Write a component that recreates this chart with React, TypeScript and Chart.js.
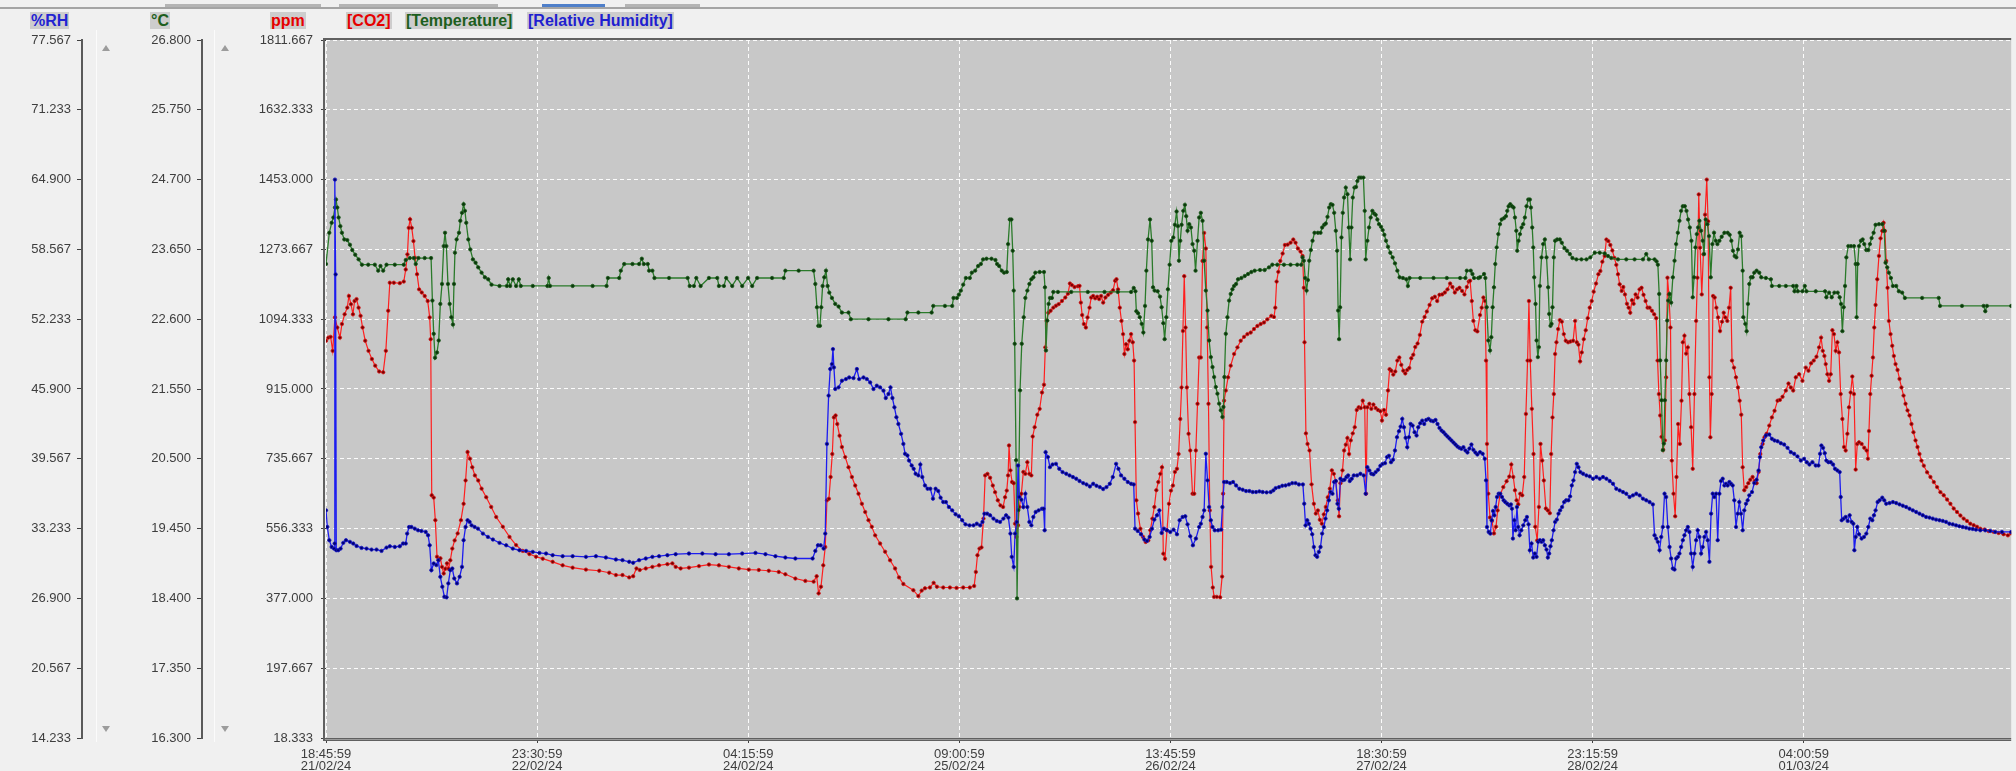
import React, { useEffect, useRef } from "react";
import { Chart, registerables } from "chart.js";

Chart.register(...registerables);

// ---- axis ticks ----
const xTickHours = [0, 28.75, 57.5, 86.25, 115, 143.75, 172.5, 201.25];
const xTickLabels = [
  ["18:45:59", "21/02/24"],
  ["23:30:59", "22/02/24"],
  ["04:15:59", "24/02/24"],
  ["09:00:59", "25/02/24"],
  ["13:45:59", "26/02/24"],
  ["18:30:59", "27/02/24"],
  ["23:15:59", "28/02/24"],
  ["04:00:59", "01/03/24"],
];
const xMaxHours = 229.5;
const rhTicks = [14.233, 20.567, 26.9, 33.233, 39.567, 45.9, 52.233, 58.567, 64.9, 71.233, 77.567];
const tempTicks = [16.3, 17.35, 18.4, 19.45, 20.5, 21.55, 22.6, 23.65, 24.7, 25.75, 26.8];
const ppmTicks = [18.333, 197.667, 377.0, 556.333, 735.667, 915.0, 1094.333, 1273.667, 1453.0, 1632.333, 1811.667];

// ---- series: [hours since 21/02/24 18:45:59, value] ----
const co2Readings = [
[0,1039],[0.32,1047],[0.63,1049],[0.91,1013],[1.22,1099],[1.54,1073],[1.9,1047],[2.17,1082],[2.54,1107],[2.9,1124],[3.12,1154],[3.4,1133],[3.67,1107],[3.89,1141],[4.16,1146],[4.44,1124],[4.71,1103],[4.98,1073],[5.34,1039],[5.79,1013],[6.25,992],[6.7,975],[7.24,960],[7.79,958],[8.15,1013],[8.47,1116],[8.69,1188],[9.24,1188],[10.05,1187],[10.59,1191],[10.86,1222],[11.09,1261],[11.27,1329],[11.45,1351],[11.68,1329],[11.91,1295],[12.13,1252],[12.4,1210],[12.68,1171],[13.04,1163],[13.44,1154],[13.85,1141],[14.12,1099],[14.26,1043],[14.4,642],[14.67,636],[14.89,578],[15.12,484],[15.35,475],[15.58,480],[15.8,458],[16.03,441],[16.25,453],[16.48,467],[16.7,453],[16.93,475],[17.2,505],[17.52,526],[17.93,544],[18.38,578],[18.74,620],[19.01,680],[19.28,753],[19.6,736],[19.92,714],[20.28,693],[20.73,680],[21.19,659],[21.82,637],[22.5,612],[23.18,586],[24.08,561],[24.99,535],[25.89,514],[26.8,499],[27.7,491],[28.61,484],[29.52,479],[30.87,471],[32.23,462],[33.59,456],[35.4,451],[37.21,448],[38.57,443],
[39.48,437],[40.38,437],[41.29,431],[41.83,434],[42.28,454],[42.73,450],[43.55,454],[44.45,458],[45.36,462],[46.49,465],[47.17,467],[47.62,458],[48.3,454],[49.43,456],[50.79,460],[52.15,464],[53.51,462],[54.87,458],[56.22,454],[57.58,451],[58.94,450],[60.3,448],[61.66,445],[62.56,439],[63.92,428],[65.28,422],[66.41,420],[66.82,434],[67.09,390],[67.41,407],[67.72,462],[67.99,509],[68.22,629],[68.49,633],[68.72,689],[68.95,748],[69.17,842],[69.4,847],[69.63,825],[69.94,795],[70.26,766],[70.71,740],[71.16,714],[71.62,689],[72.07,667],[72.52,646],[72.98,620],[73.43,599],[73.88,578],[74.33,561],[74.79,539],[75.46,518],[76.14,497],[76.82,475],[77.5,454],[78.04,431],[78.63,414],
[79.99,398],[80.67,383],[81.12,397],[81.57,403],[82.25,405],[82.75,417],[83.2,407],[84.06,405],[84.97,405],[85.87,404],[86.78,405],[87.68,405],[88.27,409],[88.5,445],[88.72,488],[89.0,505],[89.27,508],[89.54,582],[89.77,693],[90.08,697],[90.44,687],[90.81,667],[91.12,650],[91.49,629],[91.85,616],[92.21,612],[92.48,637],[92.71,654],[92.89,693],[93.02,770],[93.21,706],[93.43,676],[93.66,673],[93.84,569],[94.02,535],[94.25,565],[94.43,612],[94.7,646],[94.97,702],[95.24,697],[95.51,727],[95.79,697],[96.06,693],[96.24,793],[96.51,817],[96.87,849],[97.19,864],[97.51,906],[97.78,926],[97.96,1022],[98.14,1090],[98.37,1111],[98.68,1116],[99.05,1124],[99.41,1129],[99.77,1133],[100.22,1141],[100.68,1150],[101.04,1160],[101.31,1186],[101.58,1182],[101.94,1177],[102.4,1179],[102.62,1180],[102.8,1137],[102.98,1105],[103.21,1082],[103.48,1073],[103.71,1099],[103.98,1124],[104.21,1150],[104.48,1154],[104.75,1148],[105.02,1152],[105.29,1146],[105.56,1154],[105.84,1137],[106.15,1150],[106.52,1157],[106.88,1163],[107.19,1169],[107.47,1193],[107.65,1197],[107.87,1171],[108.1,1124],[108.33,1090],[108.55,1056],[108.73,1005],[108.96,1030],[109.19,1017],[109.41,1039],[109.64,1056],[109.87,1035],[110.05,988],[110.18,830],[110.36,629],[110.59,595],[110.91,556],[111.27,535],[111.63,522],[111.99,526],[112.26,552],[112.54,582],[112.81,612],[113.08,655],[113.35,676],[113.62,697],[113.85,714],[114.03,492],[114.26,479],[114.53,552],[114.8,620],[115.07,654],[115.34,667],[115.61,702],[115.89,710],[116.11,748],[116.34,838],[116.52,919],[116.7,1064],[116.88,1205],[117.06,1073],[117.24,919],[117.47,800],[117.7,757],
[118.01,646],[118.24,646],[118.46,757],[118.69,877],[118.91,996],[119.14,996],[119.37,1244],[119.59,1316],[119.82,1276],[120.0,1073],[120.18,877],[120.36,603],[120.54,458],[120.77,405],[120.95,381],[121.31,381],[121.77,380],[122.04,433],[122.17,646],[122.31,885],[122.54,911],[122.85,945],[123.21,975],[123.67,1005],[124.12,1022],[124.57,1039],[125.03,1049],[125.48,1056],[125.93,1060],[126.38,1069],[126.84,1077],[127.29,1082],[127.74,1086],[128.19,1094],[128.74,1103],[129.1,1100],[129.28,1124],[129.46,1191],[129.69,1216],[129.96,1244],[130.28,1263],[130.59,1285],[130.96,1286],[131.36,1291],[131.73,1299],[132.04,1291],[132.36,1276],[132.72,1268],[132.99,1257],[133.17,1175],[133.26,1035],[133.45,801],[133.67,774],[133.94,757],[134.22,670],[134.53,620],[134.8,595],[135.08,603],[135.35,579],[135.62,569],[135.89,593],[136.16,612],[136.43,637],[136.71,659],[136.98,706],[137.25,697],[137.52,678],[137.79,629],[137.97,588],[138.15,673],[138.43,706],[138.65,757],[138.88,772],[139.1,789],[139.33,748],[139.56,783],[139.83,801],[140.1,817],[140.37,861],[140.64,868],[140.92,866],[141.19,885],[141.46,868],[141.64,646],[141.82,868],[142.09,877],[142.36,864],[142.64,875],[142.95,866],[143.27,861],[143.59,858],[143.81,834],[144.08,861],[144.36,849],[144.63,911],[144.85,966],[145.08,962],[145.35,952],[145.62,960],[145.9,988],[146.17,996],[146.44,977],[146.71,962],[146.98,955],[147.25,964],[147.53,969],[147.8,994],[148.07,1003],[148.34,1023],[148.66,1032],[148.97,1054],[149.29,1088],[149.61,1100],[149.92,1114],[150.29,1131],[150.65,1148],[151.01,1152],[151.33,1141],[151.64,1157],[152.01,1158],[152.37,1163],[152.73,1171],[153.09,1186],[153.41,1177],[153.73,1163],[154.04,1171],[154.36,1175],[154.72,1167],[155.04,1158],[155.36,1177],[155.63,1191],[155.81,1193],[156.04,1141],[156.26,1090],[156.53,1066],[156.8,1063],
[157.16,1105],[157.39,1124],[157.62,1150],[157.84,1141],[157.98,988],[158.11,774],[158.29,646],[158.52,585],[158.79,576],[159.06,544],[159.34,561],[159.56,603],[159.88,642],[160.33,663],[160.78,678],[161.15,690],[161.42,721],[161.69,689],[161.92,655],[162.14,629],[162.37,619],[162.64,646],[162.91,642],[163.18,689],[163.41,851],[163.64,988],[163.82,1141],[164.0,988],[164.22,864],[164.45,748],[164.68,561],[164.95,526],[165.18,612],[165.4,774],[165.63,731],[165.85,680],[166.13,608],[166.4,603],[166.67,596],[166.85,748],[167.03,842],[167.21,902],[167.39,1005],[167.57,1035],[167.8,1069],[168.03,1092],[168.3,1088],[168.57,1056],[168.84,1039],[169.16,1035],[169.48,1037],[169.84,1039],[170.11,1090],[170.34,1035],[170.56,1029],[170.79,986],[171.02,1009],[171.29,1043],[171.56,1066],[171.83,1097],[172.1,1124],[172.37,1141],[172.64,1165],[172.96,1186],[173.28,1210],[173.55,1218],[173.82,1242],[174.14,1257],[174.37,1299],[174.64,1295],[174.91,1285],[175.18,1271],[175.45,1252],[175.72,1234],[175.95,1210],[176.18,1184],[176.45,1167],[176.67,1177],[176.9,1158],[177.17,1134],[177.4,1124],[177.62,1111],[177.85,1143],[178.08,1134],[178.35,1158],[178.62,1150],[178.89,1171],[179.16,1175],[179.43,1157],[179.71,1141],[179.98,1124],[180.25,1124],[180.57,1116],[180.88,1107],[181.16,1097],[181.34,988],[181.52,902],[181.7,847],[181.88,792],[182.11,759],[182.33,783],[182.51,945],[182.69,1201],[182.88,1158],[183.1,1073],[183.28,731],[183.51,646],[183.74,588],[183.92,689],[184.14,825],[184.37,774],[184.6,885],[184.78,1035],[185.0,1052],[185.23,1006],[185.46,1022],[185.68,902],[185.91,817],[186.13,710],[186.36,902],[186.59,1090],[186.77,1201],[186.95,1415],[187.13,1278],[187.36,1158],[187.58,1261],[187.81,1363],[188.04,1453],[188.22,1346],[188.4,945],[188.53,791],[188.71,902],[188.9,1154],[189.12,1150],[189.35,1124],[189.58,1099],[189.85,1064],[190.12,1088],[190.35,1111],[190.57,1099],[190.84,1090],[191.07,1124],[191.3,1175],[191.48,988],[191.75,970],[192.02,945],[192.29,919],[192.52,885],[192.74,849],[192.93,714],[193.15,655],[193.42,663],[193.7,673],[193.97,682],[194.28,689],[194.56,678],[194.83,673],[195.1,702],[195.33,748],[195.64,774],[195.91,791],[196.19,800],[196.55,821],[196.91,842],[197.27,859],
[197.68,885],[198.0,887],[198.36,895],[198.81,911],[199.17,929],[199.49,919],[199.81,911],[200.17,945],[200.62,953],[201.07,936],[201.53,970],[201.89,962],[202.25,981],[202.61,988],[202.98,998],[203.34,1022],[203.61,1047],[203.84,1013],[204.06,1000],[204.24,979],[204.47,953],[204.7,936],[204.92,953],[205.15,1066],[205.37,1056],[205.6,1013],[205.83,1035],[206.05,1009],[206.28,902],[206.51,838],[206.73,766],[206.96,757],[207.19,800],[207.41,868],[207.64,906],[207.86,947],[208.09,902],[208.32,708],[208.54,774],[208.77,778],[209.13,774],[209.49,764],[209.81,757],[209.99,736],[210.13,807],[210.31,902],[210.49,949],[210.67,996],[210.85,1073],[211.03,1131],[211.26,1197],[211.49,1257],[211.71,1302],[211.94,1321],[212.12,1342],[212.3,1321],[212.48,1244],[212.66,1175],[212.84,1090],[213.07,1056],[213.3,1026],[213.52,1000],[213.75,979],[214.02,964],[214.29,941],[214.56,919],[214.84,898],[215.11,877],[215.38,860],[215.65,847],[215.92,825],[216.19,804],[216.47,783],[216.74,766],[217.01,748],[217.28,731],[217.6,718],[218.05,701],[218.5,689],[218.96,676],[219.41,663],[219.86,650],[220.31,642],[220.77,631],[221.22,620],[221.67,608],[222.12,599],[222.58,590],[223.03,582],[223.48,576],[223.93,569],[224.39,565],[224.84,561],[225.29,556],[225.88,554],[226.42,550],[227.1,548],[227.78,545],[228.46,542],[229.05,539],[229.5,544]
];

const temperatureReadings = [
[0,23.43],[0.45,23.9],[0.77,24.05],[1.0,24.13],[1.22,24.28],[1.36,24.4],[1.54,24.28],[1.72,24.13],[1.95,24.0],[2.17,23.9],[2.49,23.8],[2.9,23.79],[3.26,23.72],[3.58,23.64],[3.98,23.57],[4.44,23.5],[4.89,23.42],[5.75,23.42],[6.65,23.42],[7.11,23.33],[7.42,23.4],[7.79,23.33],[8.24,23.42],[9.37,23.42],[10.59,23.42],[10.86,23.49],[11.41,23.52],[11.95,23.52],[12.22,23.43],[12.59,23.52],[13.44,23.52],[14.31,23.52],[14.49,22.88],[14.67,22.38],[14.85,22.02],[15.12,22.1],[15.35,22.28],[15.57,22.83],[15.8,23.13],[16.03,23.7],[16.21,23.9],[16.39,23.7],[16.61,23.13],[16.84,22.83],[17.07,22.63],[17.29,22.52],[17.43,23.13],[17.56,23.6],[17.79,23.8],[18.11,23.9],[18.29,24.08],[18.52,24.2],[18.74,24.33],[18.92,24.23],[19.1,24.05],[19.38,23.8],[19.65,23.65],[20.01,23.5],[20.37,23.45],[20.73,23.38],[21.19,23.3],[21.64,23.23],[22.09,23.2],[22.54,23.12],[23.63,23.1],[24.63,23.1],[24.81,23.2],[25.08,23.1],[25.44,23.2],[25.89,23.1],[26.26,23.2],[26.53,23.1],[28.16,23.1],[30.15,23.1],[30.33,23.22],[30.51,23.1],[33.59,23.1],[36.31,23.1],[38.21,23.1],[38.39,23.22],
[39.93,23.22],[40.15,23.33],[40.61,23.43],[41.74,23.43],[42.64,23.43],[43.01,23.51],[43.28,23.43],[43.82,23.43],[44.0,23.33],[44.45,23.33],[44.73,23.22],[46.72,23.22],[49.25,23.22],[49.53,23.1],[50.11,23.1],[50.43,23.22],[51.02,23.1],[52.15,23.22],[53.28,23.22],[53.51,23.1],[54.19,23.1],[54.5,23.22],[55.32,23.1],[56.0,23.22],[56.68,23.1],[57.49,23.22],[58.04,23.1],[58.71,23.22],[60.75,23.22],[62.34,23.22],[62.56,23.33],[64.37,23.33],[66.41,23.33],[66.64,23.13],[66.86,22.78],[67.04,22.5],[67.27,22.5],[67.45,22.78],[67.63,23.1],[67.86,23.23],[68.09,23.33],[68.31,23.1],[68.54,23.0],[68.9,22.92],[69.35,22.83],[69.81,22.79],[70.26,22.7],[71.16,22.7],[71.48,22.6],[73.88,22.6],[76.6,22.6],[78.95,22.6],[79.18,22.7],
[80.67,22.7],[82.48,22.7],[82.7,22.8],[84.29,22.8],[85.28,22.8],[85.46,22.92],[85.92,22.92],[86.19,22.97],[86.46,23.03],[86.78,23.12],[87.14,23.22],[87.68,23.22],[87.95,23.3],[88.41,23.33],[88.81,23.4],[89.18,23.43],[89.49,23.5],[89.95,23.51],[90.63,23.51],[91.17,23.49],[91.4,23.43],[91.67,23.4],[92.03,23.33],[92.35,23.3],[92.71,23.31],[92.89,23.73],[93.12,24.1],[93.34,24.1],[93.52,23.63],[93.66,23.03],[93.79,22.23],[93.98,20.48],[94.11,18.4],[94.29,19.73],[94.52,21.53],[94.75,22.23],[95.02,22.63],[95.24,22.92],[95.51,23.03],[95.79,23.13],[96.06,23.2],[96.33,23.23],[96.6,23.3],[97.19,23.31],[97.78,23.31],[97.91,23.08],[98.05,22.13],[98.23,22.58],[98.41,22.83],[98.59,22.92],[98.86,22.92],[99.05,23.01],[99.68,23.01],[101.49,23.01],[103.75,23.01],[106.02,23.01],[107.83,23.01],[109.64,23.01],[110.0,23.07],[110.23,23.02],[110.36,22.72],[110.59,22.69],[110.82,22.63],[111.09,22.53],[111.31,22.4],[111.54,22.8],[111.72,23.33],[111.95,23.8],[112.22,24.1],[112.45,23.78],[112.63,23.08],[112.85,23.03],[113.26,23.02],[113.58,22.94],[113.8,22.78],[114.03,22.54],[114.21,22.3],[114.44,22.63],[114.66,23.05],[114.89,23.42],[115.12,23.78],[115.39,23.83],[115.61,24.02],[115.84,24.22],[116.02,24.0],[116.16,23.48],[116.34,23.78],[116.52,24.02],[116.75,24.23],[116.97,24.32],[117.15,24.15],[117.33,23.93],[117.56,24.03],[117.79,23.98],[118.01,23.73],[118.24,23.63],[118.42,23.33],
[118.69,23.78],[118.91,24.13],[119.14,24.2],[119.37,24.08],[119.59,23.48],[119.82,23.03],[120.05,22.73],[120.27,22.28],[120.5,22.03],[120.73,21.88],[120.95,21.73],[121.18,21.58],[121.4,21.48],[121.63,21.33],[121.86,21.23],[122.08,21.13],[122.22,21.28],[122.35,21.73],[122.54,22.38],[122.76,22.63],[122.99,22.88],[123.21,22.98],[123.44,23.05],[123.67,23.1],[123.94,23.13],[124.21,23.2],[124.66,23.22],[125.12,23.25],[125.57,23.28],[126.02,23.31],[126.47,23.33],[127.2,23.34],[127.83,23.34],[128.42,23.38],[128.87,23.42],[129.55,23.42],[130.46,23.42],[131.36,23.42],[132.27,23.42],[132.81,23.42],[132.99,23.53],[133.17,23.48],[133.35,23.22],[133.54,23.03],[133.72,23.19],[133.9,23.48],[134.12,23.64],[134.35,23.78],[134.62,23.9],[135.08,23.9],[135.44,23.9],[135.66,23.98],[135.94,24.02],[136.16,24.04],[136.39,24.14],[136.62,24.28],[136.84,24.33],[137.07,24.32],[137.3,24.2],[137.52,23.93],[137.7,23.63],[137.84,22.73],[137.97,22.3],[138.11,22.78],[138.29,23.83],[138.47,24.2],[138.65,24.43],[138.88,24.58],[139.11,24.48],[139.29,23.98],[139.47,23.5],[139.65,23.98],[139.83,24.43],[140.06,24.58],[140.28,24.59],[140.46,24.68],[140.69,24.73],[140.96,24.73],[141.28,24.73],[141.46,24.23],[141.59,23.5],[141.82,23.78],[142.05,23.98],[142.27,24.13],[142.5,24.23],[142.73,24.19],[142.95,24.17],[143.18,24.1],[143.41,24.03],[143.68,23.99],[143.9,23.94],[144.13,23.87],[144.36,23.78],[144.63,23.69],[144.94,23.6],[145.26,23.53],[145.58,23.44],[145.9,23.33],[146.21,23.23],[146.66,23.22],[147.12,23.2],[147.34,23.1],[147.57,23.22],[149.02,23.22],[150.83,23.22],[152.64,23.22],[154.45,23.22],[155.17,23.22],[155.36,23.33],[155.9,23.33],[156.13,23.28],[156.35,23.22],[156.94,23.22],
[157.16,23.23],[157.71,23.28],[157.89,23.22],[158.07,22.78],[158.29,22.28],[158.52,22.13],[158.7,22.33],[158.88,22.78],[159.06,23.08],[159.24,23.43],[159.43,23.68],[159.65,23.88],[159.88,24.03],[160.11,24.1],[160.42,24.12],[160.69,24.15],[160.87,24.23],[161.06,24.3],[161.28,24.33],[161.51,24.3],[161.73,24.28],[161.92,24.13],[162.1,23.93],[162.23,23.63],[162.41,23.78],[162.6,23.88],[162.82,23.98],[163.05,24.03],[163.27,24.13],[163.5,24.3],[163.73,24.4],[163.95,24.4],[164.09,24.28],[164.27,23.98],[164.41,23.68],[164.54,23.23],[164.72,22.83],[164.86,22.28],[165.04,22.03],[165.18,22.18],[165.31,23.1],[165.54,23.53],[165.76,23.73],[165.99,23.8],[166.22,23.53],[166.44,23.08],[166.58,22.68],[166.76,22.5],[166.9,22.53],[167.03,22.78],[167.21,23.53],[167.39,23.78],[167.67,23.8],[168.03,23.8],[168.3,23.75],[168.66,23.67],[169.02,23.63],[169.39,23.58],[169.75,23.52],[170.29,23.5],[170.97,23.5],[171.65,23.5],[172.19,23.53],[172.78,23.6],[173.46,23.6],[174.14,23.59],[174.59,23.55],[175.04,23.52],[175.95,23.5],[177.08,23.5],[178.21,23.5],[179.35,23.5],[179.8,23.58],[180.16,23.5],[180.93,23.5],[181.2,23.47],[181.38,23.42],[181.56,22.98],[181.7,21.98],[181.88,21.38],[182.06,20.63],[182.2,20.73],[182.33,21.38],[182.51,21.98],[182.65,22.58],[182.79,22.88],[182.97,22.98],[183.19,22.85],[183.42,23.23],[183.65,23.48],[183.87,23.73],[184.1,23.9],[184.32,24.08],[184.55,24.23],[184.78,24.3],[185.05,24.3],[185.28,24.23],[185.5,24.1],[185.73,23.98],[185.95,23.78],[186.13,22.93],[186.31,23.23],[186.5,23.68],[186.68,23.88],[186.86,23.98],[187.04,24.08],[187.27,23.93],[187.49,23.78],[187.67,23.58],[187.9,24.1],[188.13,24.03],[188.35,23.85],[188.58,23.23],[188.81,23.73],[189.03,23.9],[189.26,23.78],[189.49,23.73],[189.76,23.78],[190.07,23.84],[190.44,23.9],[190.89,23.9],[191.16,23.87],[191.39,23.78],[191.61,23.63],[191.84,23.55],[192.07,23.53],[192.29,23.65],[192.52,23.9],[192.74,23.85],[192.93,23.33],
[193.02,22.63],[193.29,22.53],[193.47,22.42],[193.65,22.83],[193.83,23.13],[194.06,23.23],[194.28,23.23],[194.51,23.3],[194.83,23.33],[195.19,23.3],[195.46,23.23],[196.09,23.22],[196.77,23.2],[196.91,23.1],[197.91,23.1],[198.81,23.1],[199.81,23.1],[199.99,23.02],[200.26,23.1],[200.44,23.02],[201.07,23.02],[201.39,23.1],[201.62,23.02],[202.88,23.02],[204.15,23.02],[204.33,22.93],[204.7,23.0],[205.06,22.93],[205.42,23.0],[205.87,23.0],[206.14,22.93],[206.33,22.83],[206.51,22.42],[206.69,22.78],[206.87,23.1],[207.05,23.53],[207.32,23.7],[207.68,23.7],[208.09,23.7],[208.32,23.43],[208.45,22.63],[208.59,23.43],[208.77,23.7],[209.04,23.78],[209.27,23.8],[209.49,23.73],[209.77,23.64],[210.04,23.64],[210.26,23.73],[210.49,23.82],[210.76,23.9],[211.03,24.02],[211.49,24.03],[211.94,24.03],[212.21,23.93],[212.39,23.45],[212.62,23.38],[212.84,23.3],[213.12,23.22],[213.39,23.1],[213.84,23.1],[214.2,23.02],[214.65,23.0],[215.02,22.92],[217.37,22.92],[219.63,22.92],[219.81,22.8],[222.8,22.8],[225.74,22.8],[225.97,22.72],[226.2,22.8],[229.5,22.8]
];

const humidityReadings = [
[0,34.89],[0.18,33.38],[0.45,32.18],[0.77,31.57],[1.09,31.42],[1.18,31.88],[1.22,64.9],[1.31,56.3],[1.4,31.27],[1.67,31.27],[1.99,31.42],[2.35,31.94],[2.72,32.18],[3.26,32.03],[3.71,31.88],[4.16,31.66],[4.84,31.48],[5.52,31.42],[6.2,31.33],[6.88,31.33],[7.56,31.21],[8.24,31.51],[8.69,31.63],[9.37,31.57],[10.05,31.63],[10.5,31.88],[10.86,31.88],[11.05,32.78],[11.32,33.38],[11.63,33.38],[12.09,33.23],[12.54,33.08],[12.99,33.02],[13.58,32.93],[13.9,32.63],[14.12,31.72],[14.35,29.46],[14.67,30.07],[15.03,29.92],[15.3,30.37],[15.57,28.86],[15.84,27.96],[16.12,27.05],[16.43,26.99],[16.66,28.26],[16.93,29.46],[17.2,29.61],[17.47,28.71],[17.84,28.26],[18.2,28.86],[18.52,29.76],[18.74,32.18],[19.01,33.38],[19.28,33.99],[19.56,33.84],[19.83,33.53],[20.24,33.38],[20.69,33.23],[21.37,32.78],[22.05,32.48],[22.73,32.24],[23.63,31.94],[24.54,31.72],[25.44,31.42],[26.35,31.27],[27.25,31.21],[28.16,31.12],[29.06,31.03],[29.97,30.97],[30.87,30.82],[32.23,30.73],[33.59,30.73],[35.4,30.67],[36.76,30.73],[38.12,30.61],
[39.48,30.43],[40.38,30.37],[41.29,30.22],[41.83,30.13],[42.64,30.37],[43.55,30.52],[44.45,30.67],[45.36,30.73],[46.49,30.82],[47.62,30.91],[49.43,30.97],[51.25,30.97],[53.06,30.91],[54.87,30.91],[56.68,30.97],[58.49,31.03],[59.85,30.91],[61.21,30.73],[62.56,30.61],[63.92,30.52],[66.27,30.52],[66.64,31.21],[67.0,31.72],[67.36,31.72],[67.77,31.42],[67.99,32.78],[68.22,40.92],[68.45,45.3],[68.67,47.71],[68.9,48.16],[69.04,49.52],[69.17,47.86],[69.35,45.9],[69.81,46.05],[70.26,46.65],[70.8,46.8],[71.25,46.95],[71.84,46.89],[72.3,47.71],[72.61,46.8],[73.2,46.95],[73.65,46.8],[74.11,46.5],[74.56,45.9],[75.01,46.2],[75.46,46.05],[75.92,45.75],[76.23,45.08],[76.6,45.45],[76.87,46.05],[77.14,45.08],[77.41,44.24],[77.68,43.34],[77.95,42.73],[78.32,41.83],[78.63,40.92],[78.86,40.02],[79.18,39.87],
[79.4,39.41],[79.76,38.96],[80.03,38.66],[80.3,38.21],[80.67,38.06],[80.94,39.05],[81.21,37.91],[81.57,37.15],[81.93,36.85],[82.3,36.85],[82.66,35.95],[83.02,36.85],[83.38,36.64],[83.7,36.04],[84.06,35.64],[84.42,35.64],[84.83,35.19],[85.28,34.89],[85.74,34.53],[86.19,34.35],[86.64,33.99],[87.09,33.62],[87.64,33.53],[88.18,33.53],[88.63,33.68],[89.09,33.53],[89.4,33.84],[89.67,34.59],[90.04,34.59],[90.44,34.44],[90.9,34.14],[91.35,33.93],[91.8,33.84],[92.25,34.14],[92.62,34.44],[92.93,34.23],[93.21,32.78],[93.39,30.67],[93.66,29.76],[93.84,32.78],[94.07,33.84],[94.25,38.96],[94.43,36.1],[94.7,35.86],[94.97,35.19],[95.24,36.4],[95.51,35.19],[95.79,33.84],[96.06,33.53],[96.33,34.29],[96.65,34.74],[97.05,34.89],[97.51,35.04],[97.73,35.04],[97.87,33.08],[98.0,40.17],[98.32,39.72],[98.59,38.81],[98.95,39.05],[99.41,39.11],[99.86,38.66],[100.31,38.36],[100.81,38.21],[101.26,38.06],[101.72,37.91],[102.17,37.76],[102.62,37.55],[103.12,37.36],[103.57,37.24],[104.03,37.06],[104.48,37.3],[104.93,37.12],[105.38,37.0],[105.84,36.82],[106.29,37.0],[106.74,37.3],[107.15,37.91],[107.6,39.11],[107.92,38.66],[108.28,38.06],[108.73,37.76],[109.19,37.46],[109.64,37.3],[110.0,37.24],[110.18,33.23],[110.54,33.02],[110.99,32.72],[111.45,32.24],[111.81,32.12],[112.17,32.48],[112.49,33.23],[112.81,34.05],[113.17,34.44],[113.49,34.89],[113.8,32.84],[114.12,33.23],[114.53,33.08],[114.98,32.93],[115.43,33.14],[115.89,32.72],[116.25,33.99],[116.66,34.29],[117.02,34.35],[117.33,33.62],[117.7,32.54],[118.06,31.72],[118.47,32.33],
[118.91,33.38],[119.14,33.68],[119.37,34.29],[119.59,34.89],[119.82,40.02],[120.05,37.61],[120.27,35.19],[120.5,33.99],[120.73,33.38],[121.04,33.08],[121.49,33.08],[121.9,33.14],[122.08,35.19],[122.31,37.46],[122.67,37.46],[123.12,37.36],[123.53,37.46],[123.94,37.15],[124.39,36.85],[124.84,36.76],[125.3,36.64],[125.75,36.64],[126.2,36.55],[126.66,36.55],[127.11,36.61],[127.56,36.55],[128.1,36.52],[128.65,36.55],[129.01,36.7],[129.33,36.91],[129.78,37.0],[130.23,37.12],[130.68,37.15],[131.14,37.24],[131.59,37.36],[132.04,37.36],[132.5,37.24],[133.04,37.24],[133.22,35.49],[133.4,33.53],[133.63,33.99],[133.85,33.68],[134.08,33.23],[134.31,32.72],[134.53,31.57],[134.76,30.82],[134.98,30.67],[135.21,31.12],[135.44,31.57],[135.66,32.78],[135.89,33.38],[136.12,34.14],[136.34,34.89],[136.57,35.8],[136.8,36.55],[137.07,36.4],[137.3,37.46],[137.52,37.55],[137.75,35.49],[137.93,35.04],[138.15,37.76],[138.43,37.61],[138.7,37.67],[138.97,37.91],[139.2,38.06],[139.42,37.55],[139.69,37.76],[139.97,38.06],[140.42,38.06],[140.87,38.21],[141.32,38.06],[141.59,36.4],[141.82,38.81],[142.09,38.51],[142.36,38.21],[142.64,38.15],[142.95,38.36],[143.27,38.57],[143.59,38.93],[143.9,39.11],[144.22,39.17],[144.49,39.72],[144.76,39.84],[145.04,39.26],[145.31,39.48],[145.58,40.32],[145.85,41.53],[146.12,42.07],[146.35,42.49],[146.57,43.19],[146.8,42.43],[147.03,41.47],[147.25,40.62],[147.48,41.53],[147.71,42.73],[147.98,42.58],[148.25,41.98],[148.52,41.68],[148.75,42.43],[149.02,42.79],[149.29,43.03],[149.56,42.73],[149.83,43.09],[150.15,43.19],[150.47,43.03],[150.79,42.97],[151.1,43.09],[151.37,42.73],[151.64,42.37],[151.92,42.13],[152.19,41.98],[152.46,41.77],[152.73,41.59],[153.0,41.41],[153.27,41.23],[153.55,41.04],[153.82,40.86],[154.09,40.68],[154.36,40.56],[154.63,40.47],[154.9,40.62],[155.18,40.32],[155.45,40.14],[155.72,40.5],[155.99,40.86],[156.26,40.38],[156.53,40.14],[156.8,39.96],
[157.16,40.17],[157.52,40.02],[157.8,39.57],[157.98,37.61],[158.11,33.38],[158.34,32.93],[158.57,32.78],[158.75,33.99],[158.93,34.83],[159.11,34.44],[159.29,35.19],[159.47,36.1],[159.7,36.4],[159.92,36.4],[160.15,36.1],[160.38,35.8],[160.6,35.64],[160.87,35.49],[161.15,35.34],[161.37,35.43],[161.51,35.04],[161.64,32.33],[161.83,33.99],[162.01,33.08],[162.19,35.19],[162.37,33.38],[162.55,32.63],[162.78,33.08],[163.05,33.53],[163.32,33.99],[163.55,34.29],[163.77,33.62],[163.95,31.27],[164.18,31.88],[164.41,30.61],[164.63,30.97],[164.86,30.67],[165.08,32.03],[165.31,32.18],[165.54,32.03],[165.76,32.18],[165.99,31.72],[166.22,31.33],[166.4,30.61],[166.58,30.97],[166.76,31.63],[166.94,32.18],[167.17,33.08],[167.39,33.84],[167.62,34.05],[167.85,34.59],[168.07,34.89],[168.34,35.19],[168.62,35.64],[168.89,35.8],[169.2,35.8],[169.43,36.16],[169.66,37.15],[169.88,37.61],[170.11,38.36],[170.34,39.11],[170.56,38.81],[170.83,38.36],[171.2,38.21],[171.65,38.06],[172.1,37.97],[172.55,37.76],[173.01,37.91],[173.46,37.76],[173.91,37.91],[174.37,37.76],[174.82,37.55],[175.27,37.3],[175.72,36.85],[176.18,36.7],[176.63,36.55],[177.08,36.4],[177.53,36.1],[177.99,36.25],[178.44,36.4],[178.89,36.25],[179.35,35.95],[179.8,35.8],[180.25,35.64],[180.7,35.43],[180.93,32.63],[181.16,32.33],[181.38,32.03],[181.61,31.27],[181.84,32.48],[182.06,33.38],[182.29,36.4],[182.51,36.1],[182.74,33.38],[182.97,31.57],[183.19,30.52],[183.42,29.61],[183.65,29.52],[183.87,30.52],[184.1,30.67],[184.32,30.97],[184.55,31.57],[184.78,32.18],[185.0,32.63],[185.23,33.08],[185.46,33.38],[185.68,32.93],[185.91,30.97],[186.13,29.76],[186.36,30.97],[186.59,32.18],[186.81,33.08],[187.04,32.48],[187.27,30.97],[187.49,31.57],[187.72,32.48],[187.95,32.93],[188.17,32.18],[188.4,30.22],[188.63,34.59],[188.85,36.4],[189.08,36.1],[189.31,36.4],[189.53,32.18],[189.76,36.4],[189.98,37.55],[190.21,37.76],[190.44,37.15],[190.66,37.3],[190.89,37.15],[191.12,37.46],[191.34,37.3],[191.57,37.15],[191.79,35.8],[192.02,33.38],[192.25,34.59],[192.47,35.64],[192.7,34.59],[192.93,33.08],[193.15,34.89],[193.38,35.49],[193.61,35.8],[193.83,36.25],[194.2,36.55],[194.51,37.36],[194.83,37.67],[195.1,38.51],[195.28,39.72],[195.46,40.62],[195.73,41.23],[196.09,41.68],
[196.55,41.77],[196.91,41.38],[197.27,41.23],[197.68,41.16],[198.13,40.98],[198.58,40.86],[199.04,40.56],[199.49,40.17],[199.94,40.02],[200.39,39.78],[200.85,39.41],[201.3,39.57],[201.66,39.26],[202.02,39.05],[202.43,39.26],[202.88,38.96],[203.25,38.96],[203.47,40.02],[203.65,40.77],[203.88,40.56],[204.11,40.08],[204.33,39.41],[204.61,39.26],[204.92,39.26],[205.24,39.05],[205.51,38.66],[205.83,38.51],[206.14,38.36],[206.28,36.1],[206.42,33.99],[206.69,34.14],[206.96,34.29],[207.23,33.93],[207.5,34.44],[207.77,33.84],[208.0,33.68],[208.14,31.27],[208.32,32.48],[208.54,33.38],[208.77,32.72],[209.13,32.33],[209.45,32.48],[209.77,32.78],[210.04,33.38],[210.31,34.14],[210.58,33.99],[210.81,34.44],[211.03,34.89],[211.31,35.64],[211.58,35.8],[211.94,36.04],[212.21,35.8],[212.48,35.49],[212.93,35.55],[213.39,35.64],[213.84,35.55],[214.29,35.43],[214.74,35.31],[215.2,35.19],[215.65,35.04],[216.1,34.89],[216.56,34.74],[217.01,34.59],[217.46,34.44],[217.91,34.29],[218.37,34.23],[218.82,34.14],[219.27,34.05],[219.73,33.99],[220.18,33.93],[220.63,33.84],[221.08,33.68],[221.54,33.62],[221.99,33.53],[222.44,33.44],[222.89,33.38],[223.35,33.32],[223.8,33.23],[224.25,33.2],[224.7,33.14],[225.29,33.08],[225.97,33.08],[226.65,33.02],[227.33,32.93],[228.24,32.93],[229.5,32.93]
];

const FONT = '"Liberation Sans", Arial, Helvetica, sans-serif';
const TICK_COLOR = "#3e3e3e";

const toPoints = (rows) => rows.map((r) => ({ x: r[0], y: r[1] }));

const panelPlugin = {
  id: "panel",
  beforeDraw(chart) {
    const { ctx, chartArea: a, width, height } = chart;
    ctx.save();
    ctx.fillStyle = "#f0f0f0";
    ctx.fillRect(0, 0, width, height);
    // toolbar edge at the top
    ctx.fillStyle = "#b4b4b4";
    ctx.fillRect(165, 4, 156, 3);
    ctx.fillRect(339, 4, 159, 3);
    ctx.fillRect(625, 4, 75, 3);
    ctx.fillStyle = "#4f7fc9";
    ctx.fillRect(542, 4, 63, 3);
    ctx.fillStyle = "#a4a4a4";
    ctx.fillRect(0, 7, width, 2);
    // faint panel separators
    ctx.fillStyle = "#fbfbfb";
    ctx.fillRect(96, 30, 1, 712);
    ctx.fillRect(214, 30, 1, 712);
    // plot background
    ctx.fillStyle = "#c8c8c8";
    ctx.fillRect(a.left, a.top, a.right - a.left, a.bottom - a.top);
    ctx.restore();
  },
  afterDraw(chart) {
    const { ctx, chartArea: a } = chart;
    ctx.save();
    ctx.fillStyle = "#606060";
    ctx.fillRect(a.left - 1, a.top - 2, a.right - a.left + 1, 2);
    ctx.fillRect(a.left - 3, a.top - 2, 2, a.bottom - a.top + 5);
    ctx.fillRect(a.left - 1, a.bottom, a.right - a.left + 1, 1);
    ctx.fillStyle = "#9a9a9a";
    ctx.fillRect(a.left - 1, a.bottom + 1, a.right - a.left + 1, 1);
    ctx.fillStyle = "#606060";
    ctx.fillRect(a.left - 1, a.bottom + 2, a.right - a.left + 1, 1);
    // scroll arrows
    ctx.fillStyle = "#9c9c9c";
    const tri = (x, y, up) => {
      ctx.beginPath();
      if (up) {
        ctx.moveTo(x, y - 3);
        ctx.lineTo(x + 4, y + 3);
        ctx.lineTo(x - 4, y + 3);
      } else {
        ctx.moveTo(x, y + 3);
        ctx.lineTo(x + 4, y - 3);
        ctx.lineTo(x - 4, y - 3);
      }
      ctx.closePath();
      ctx.fill();
    };
    tri(106, 48, true);
    tri(106, 729, false);
    tri(225, 48, true);
    tri(225, 729, false);
    ctx.restore();
  },
};

const sideAxis = (min, max, ticks, weight, width, padding, withBorder, onArea) => ({
  type: "linear",
  position: "left",
  weight,
  min,
  max,
  afterBuildTicks: (scale) => {
    scale.ticks = ticks.map((v) => ({ value: v }));
  },
  afterFit: (scale) => {
    scale.width = width;
  },
  ticks: {
    autoSkip: false,
    padding,
    color: TICK_COLOR,
    font: { family: FONT, size: 13 },
    callback: (v) => Number(v).toFixed(3),
  },
  grid: {
    drawOnChartArea: onArea,
    drawTicks: true,
    tickLength: 5,
    tickColor: "#404040",
    tickWidth: 1,
    color: "rgba(255,255,255,0.95)",
    lineWidth: 1,
  },
  border: withBorder
    ? { display: true, color: "#5a5a5a", width: 2 }
    : { display: false, dash: [4, 3] },
});

export default function App() {
  const canvasRef = useRef(null);

  useEffect(() => {
    const canvas = canvasRef.current;
    if (!canvas) return;
    const chart = new Chart(canvas, {
      type: "line",
      data: {
        datasets: [
          {
            label: "Relative Humidity",
            data: toPoints(humidityReadings),
            yAxisID: "yRh",
            order: 0,
            borderColor: "#1c1cf0",
            borderWidth: 1.3,
            pointRadius: 1.7,
            pointBackgroundColor: "#00006e",
            pointBorderColor: "#1515c8",
            pointBorderWidth: 0.8,
            tension: 0,
            fill: false,
          },
          {
            label: "Temperature",
            data: toPoints(temperatureReadings),
            yAxisID: "yTemp",
            order: 1,
            borderColor: "#2a7a2a",
            borderWidth: 1.3,
            pointRadius: 1.7,
            pointBackgroundColor: "#0a360a",
            pointBorderColor: "#1c5a1c",
            pointBorderWidth: 0.8,
            tension: 0,
            fill: false,
          },
          {
            label: "CO2",
            data: toPoints(co2Readings),
            yAxisID: "yPpm",
            order: 2,
            borderColor: "#ff1e1e",
            borderWidth: 1.2,
            pointRadius: 1.7,
            pointBackgroundColor: "#780000",
            pointBorderColor: "#d81616",
            pointBorderWidth: 0.8,
            tension: 0,
            fill: false,
          },
        ],
      },
      options: {
        animation: false,
        responsive: false,
        devicePixelRatio: 1,
        events: [],
        layout: { padding: { top: 40, right: 0, bottom: 0, left: 0 } },
        plugins: {
          legend: { display: false },
          tooltip: { enabled: false },
          title: { display: false },
        },
        scales: {
          x: {
            type: "linear",
            position: "bottom",
            min: 0,
            max: xMaxHours,
            afterBuildTicks: (scale) => {
              scale.ticks = xTickHours.map((v) => ({ value: v }));
            },
            afterFit: (scale) => {
              scale.height = 33;
            },
            ticks: {
              autoSkip: false,
              maxRotation: 0,
              minRotation: 0,
              padding: 5,
              color: TICK_COLOR,
              font: { family: FONT, size: 13, lineHeight: 0.92 },
              callback: (v, i) => xTickLabels[i],
            },
            grid: {
              drawOnChartArea: true,
              drawTicks: true,
              tickLength: 5,
              tickColor: "#404040",
              tickWidth: 1,
              color: "rgba(255,255,255,0.95)",
              lineWidth: 1,
            },
            border: { display: false, dash: [4, 3] },
          },
          yPpm: sideAxis(ppmTicks[0], ppmTicks[10], ppmTicks, 0, 124, 8, false, true),
          yTemp: sideAxis(tempTicks[0], tempTicks[10], tempTicks, 1, 120, 6, true, false),
          yRh: sideAxis(rhTicks[0], rhTicks[10], rhTicks, 2, 82, 6, true, false),
        },
      },
      plugins: [panelPlugin],
    });
    return () => chart.destroy();
  }, []);

  const head = {
    position: "absolute",
    top: 12,
    fontFamily: FONT,
    fontWeight: "bold",
    fontSize: 16,
    lineHeight: "17px",
    background: "#cdcdcd",
    padding: "0 1px",
    whiteSpace: "nowrap",
  };

  return (
    <div
      style={{
        position: "absolute",
        left: 0,
        top: 0,
        width: 2016,
        height: 771,
        overflow: "hidden",
        background: "#f0f0f0",
      }}
    >
      <canvas ref={canvasRef} width={2016} height={771} style={{ display: "block", width: 2016, height: 771 }} />
      <span style={{ ...head, left: 30, color: "#2323d2" }}>%RH</span>
      <span style={{ ...head, left: 150, color: "#1d5e1d" }}>°C</span>
      <span style={{ ...head, left: 270, color: "#e60000" }}>ppm</span>
      <span style={{ ...head, left: 346, color: "#e60000" }}>[CO2]</span>
      <span style={{ ...head, left: 405, color: "#1d5e1d" }}>[Temperature]</span>
      <span style={{ ...head, left: 527, color: "#1f1fd0" }}>[Relative Humidity]</span>
    </div>
  );
}
